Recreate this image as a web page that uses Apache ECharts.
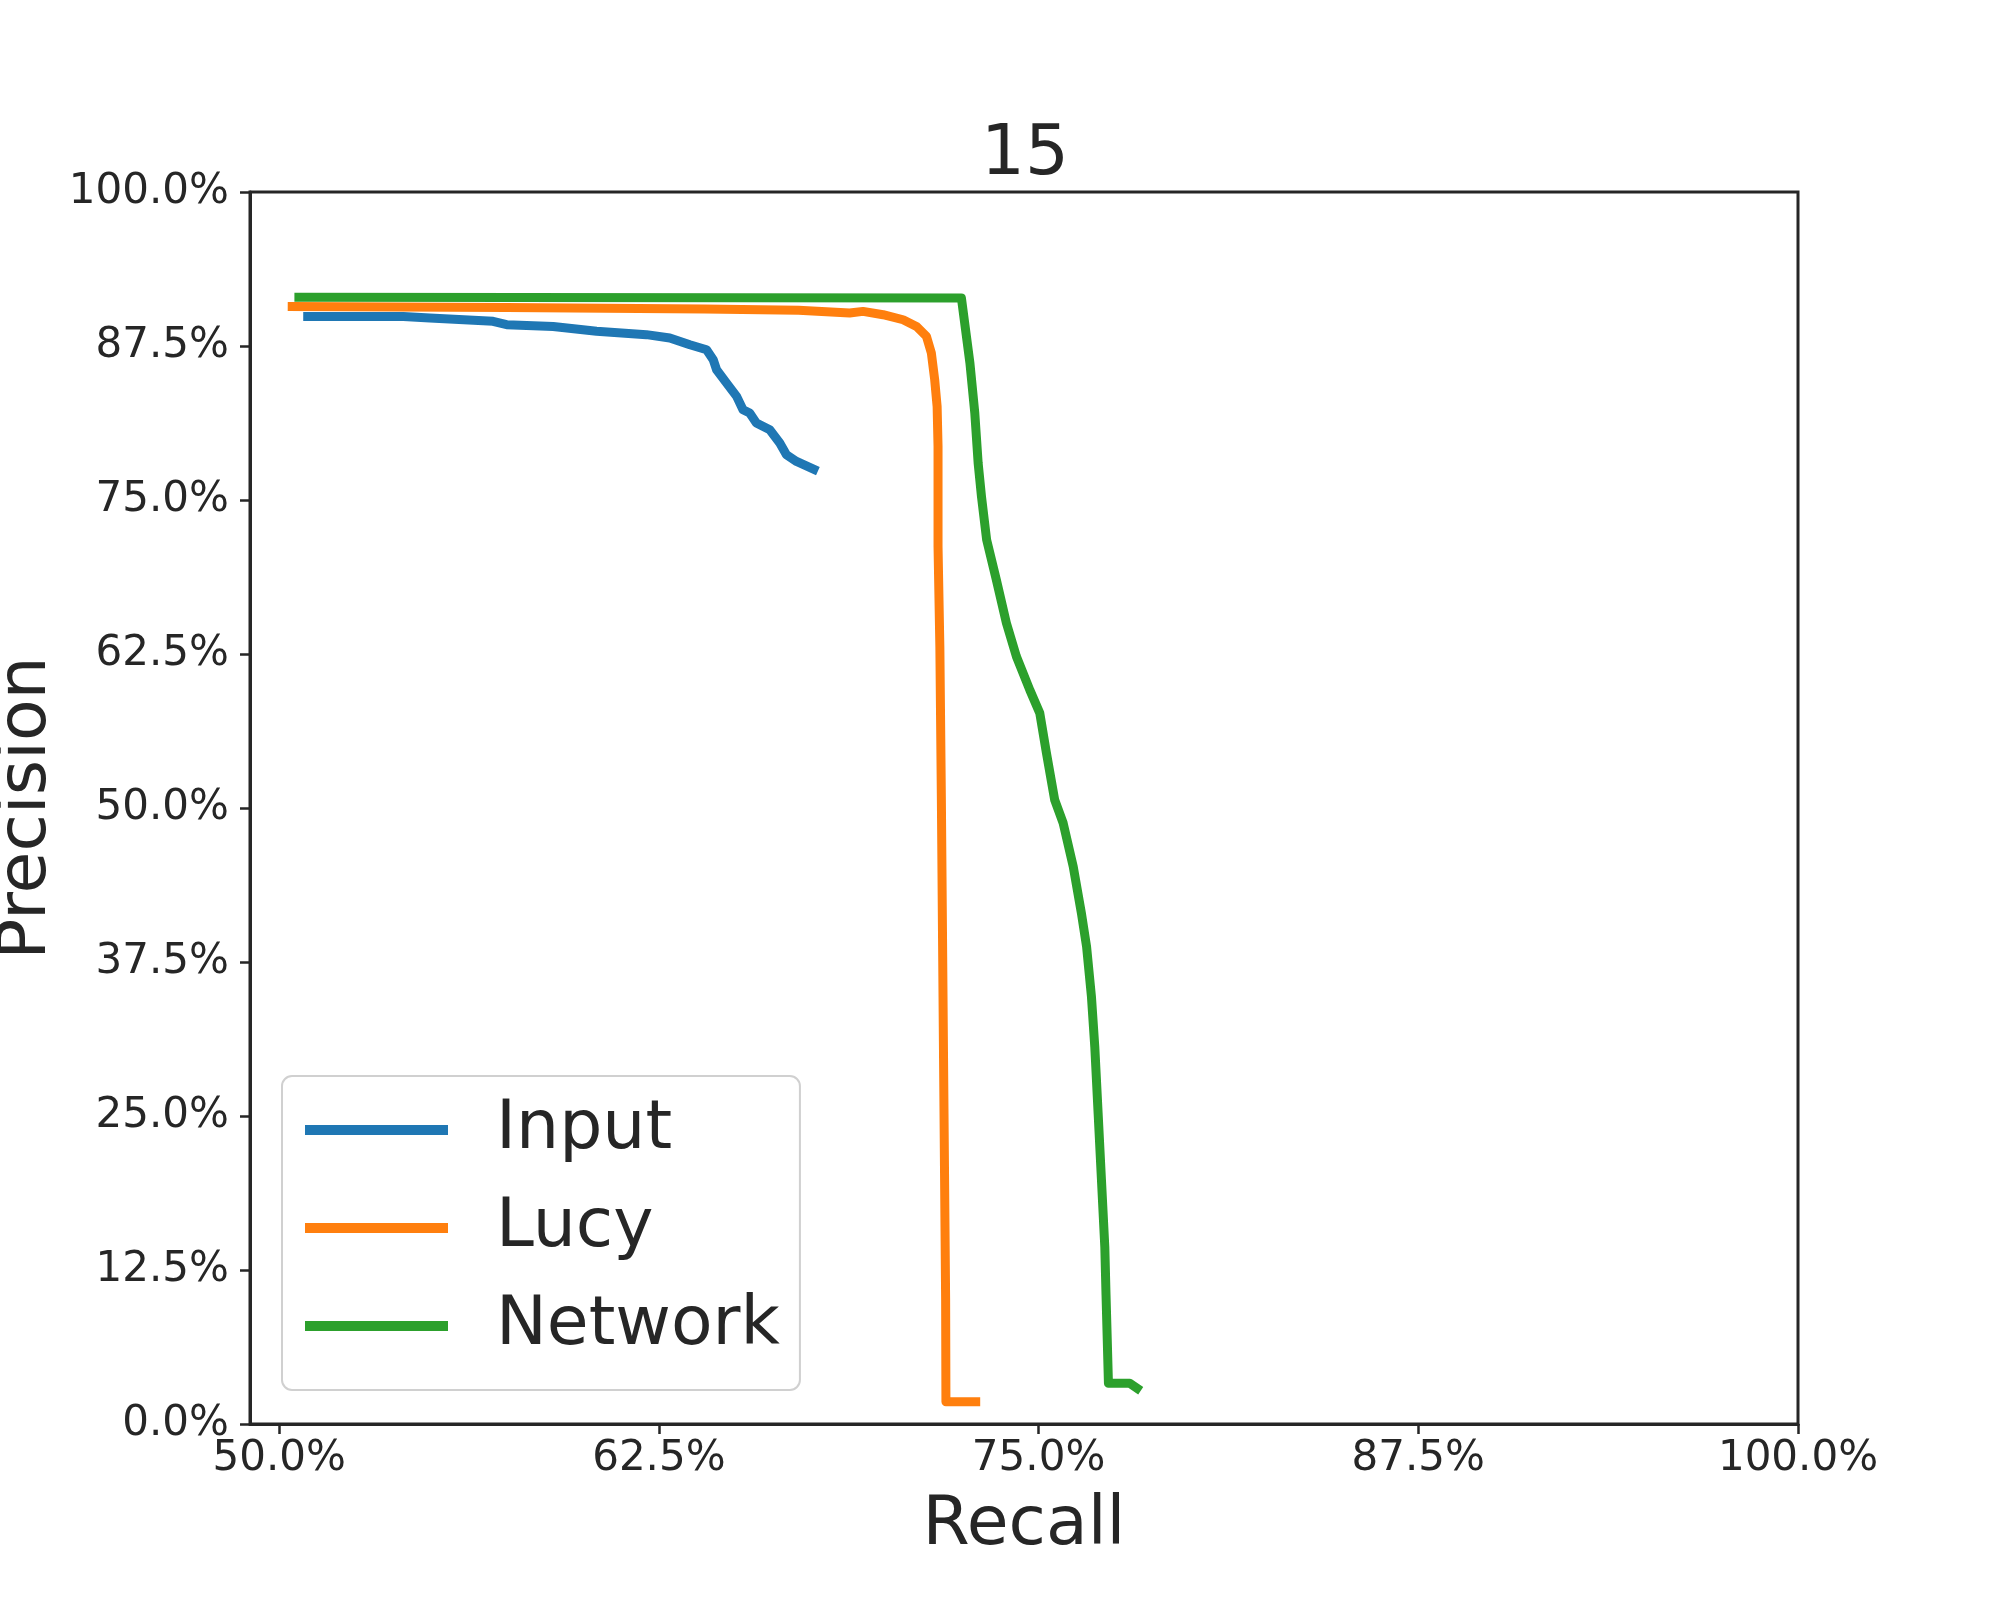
<!DOCTYPE html>
<html>
<head>
<meta charset="utf-8">
<script src="https://cdn.jsdelivr.net/npm/echarts@6/dist/echarts.min.js"></script>
<style>
  html, body { margin: 0; padding: 0; background: #fff; }
  #chart { width: 2000px; height: 1600px; }
</style>
</head>
<body>
<div id="chart"></div>
<script>
// recall / precision (percent)
const inputRecall = [50.94, 54.09, 54.96, 57.04, 57.49, 59.02, 60.45, 62.09, 62.86, 63.52, 64.07, 64.29, 64.40, 64.73, 65.06, 65.27, 65.49, 65.71, 66.15, 66.48, 66.70, 67.03, 67.6]
const inputPrecision = [89.90, 89.90, 89.77, 89.50, 89.23, 89.09, 88.69, 88.42, 88.15, 87.60, 87.20, 86.38, 85.57, 84.49, 83.41, 82.33, 82.06, 81.25, 80.70, 79.62, 78.67, 78.13, 77.5]

const lucyRecall = [50.43, 57.5, 64.0, 67.1, 68.78, 69.22, 69.88, 70.54, 70.98, 71.31, 71.47, 71.58, 71.66, 71.69, 71.69, 71.75, 71.80, 71.87, 71.94, 71.95, 72.93]
const lucyPrecision = [90.70, 90.62, 90.50, 90.40, 90.18, 90.31, 90.04, 89.63, 89.09, 88.28, 86.93, 84.76, 82.59, 79.35, 71.23, 63.11, 50.66, 30.0, 10.07, 1.81, 1.81]

const networkRecall = [50.65, 72.46, 72.74, 72.90, 73.01, 73.12, 73.29, 73.61, 73.94, 74.27, 74.71, 75.04, 75.26, 75.53, 75.81, 76.14, 76.41, 76.58, 76.74, 76.85, 76.96, 77.07, 77.18, 77.22, 77.3, 78.0, 78.24]
const networkPrecision = [91.45, 91.39, 86.11, 82.06, 78.0, 75.29, 71.77, 68.52, 65.01, 62.30, 59.59, 57.70, 54.45, 50.66, 48.77, 45.25, 41.46, 38.75, 34.69, 30.63, 25.22, 19.81, 14.39, 10.5, 3.3, 3.3, 2.9]

const seriesNames = ['Input', 'Lucy', 'Network']
const xTicks = [50, 62.5, 75, 87.5, 100]
const yTicks = [0, 12.5, 25, 37.5, 50, 62.5, 75, 87.5, 100]
const chartTitle = '15'

const pairs = (xs, ys) => xs.map((x, i) => [x, ys[i]])
const fmt = (v) => v.toFixed(1) + '%'
const ink = '#262626'
const font = 'DejaVu Sans'

const chart = echarts.init(document.getElementById('chart'), null, { renderer: 'canvas' })

const lineSeries = (name, data, color) => ({
  name,
  type: 'line',
  data,
  showSymbol: false,
  symbol: 'none',
  color,
  lineStyle: { width: 9, color, cap: 'square', join: 'round' },
  animation: false
})

chart.setOption({
  backgroundColor: '#fff',
  animation: false,
  title: {
    text: chartTitle,
    left: 1020,
    top: 117,
    textAlign: 'center',
    textStyle: { fontFamily: font, fontSize: 69, fontWeight: 'normal', color: ink }
  },
  grid: {
    left: 250, right: 202, top: 192, bottom: 176,
    containLabel: false,
    outerBoundsMode: 'none',
    show: true, borderColor: ink, borderWidth: 3, backgroundColor: 'transparent'
  },
  // y axis title, placed by hand so it sits right at the left edge
  graphic: [{
    type: 'text',
    x: 27,
    y: 808,
    rotation: Math.PI / 2,
    style: {
      text: 'Precision',
      fontFamily: font,
      fontSize: 68,
      fill: ink,
      align: 'center',
      verticalAlign: 'middle'
    }
  }],
  legend: {
    orient: 'vertical',
    left: 282,
    top: 1076,
    data: seriesNames,
    icon: 'rect',
    itemWidth: 143,
    itemHeight: 10,
    itemGap: 30,
    padding: [20, 20, 30, 23],
    backgroundColor: '#fff',
    borderColor: '#d0d0d0',
    borderWidth: 2,
    borderRadius: 10,
    textStyle: { fontFamily: font, fontSize: 68, color: ink, padding: [0, 0, 0, 43] }
  },
  xAxis: {
    type: 'value',
    min: 49.04,
    max: 100,
    name: 'Recall',
    nameLocation: 'middle',
    nameGap: 68,
    nameTextStyle: { fontFamily: font, fontSize: 68, color: ink },
    axisLine: { onZero: false, lineStyle: { color: ink, width: 3 } },
    axisTick: { show: true, customValues: xTicks, length: 10, lineStyle: { color: ink, width: 2.5 } },
    axisLabel: { customValues: xTicks, formatter: fmt, margin: 14, fontFamily: font, fontSize: 42, color: ink },
    splitLine: { show: false }
  },
  yAxis: {
    type: 'value',
    min: 0,
    max: 100,
    axisLine: { onZero: false, lineStyle: { color: ink, width: 3 } },
    axisTick: { show: true, customValues: yTicks, length: 10, lineStyle: { color: ink, width: 2.5 } },
    axisLabel: { customValues: yTicks, formatter: fmt, margin: 21, fontFamily: font, fontSize: 42, color: ink },
    splitLine: { show: false }
  },
  series: [
    lineSeries(seriesNames[0], pairs(inputRecall, inputPrecision), '#1f77b4'),
    lineSeries(seriesNames[1], pairs(lucyRecall, lucyPrecision), '#ff7f0e'),
    lineSeries(seriesNames[2], pairs(networkRecall, networkPrecision), '#2ca02c')
  ]
})
</script>
</body>
</html>
